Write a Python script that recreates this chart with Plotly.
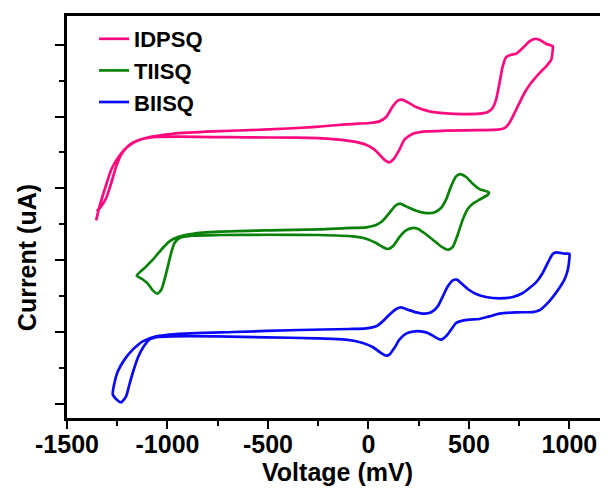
import plotly.graph_objects as go

# IDPSQ (pink) voltage (mV) and current (arb. units)
idpsq_v = [-1355, -1338, -1313, -1280, -1247, -1206, -1156, -1090, -973, -774, -526, -277, -111, 5, 55, 88, 121, 146, 167, 196, 237, 303, 386, 469, 552, 594, 618, 635, 652, 668, 685, 710, 735, 768, 801, 826, 851, 884, 917,
           917, 909, 884, 851, 809, 776, 735, 701, 677, 643, 552, 386, 287, 221, 179, 154, 129, 104, 85, 63, 30, -12, -78, -178, -360, -609, -774, -940, -1056, -1139, -1189, -1231, -1255, -1280, -1305, -1330, -1352]
idpsq_i = [25.53, 27.48, 29.80, 32.59, 34.21, 35.61, 36.54, 37.14, 37.60, 37.93, 38.16, 38.53, 38.90, 39.09, 39.32, 39.93, 41.41, 42.20, 42.34, 41.97, 41.32, 40.71, 40.44, 40.34, 40.39, 40.62, 41.18, 42.34, 44.66, 46.98, 48.28, 48.61, 48.75, 49.54, 50.46, 50.79, 50.70, 50.14, 49.77,
           49.30, 47.91, 46.98, 46.05, 44.66, 43.27, 40.95, 39.09, 38.39, 38.16, 38.11, 38.02, 37.93, 37.60, 36.77, 35.38, 34.21, 33.61, 33.84, 34.45, 35.38, 36.07, 36.54, 36.86, 37.05, 37.09, 37.14, 37.19, 37.14, 36.77, 36.07, 34.68, 33.05, 30.73, 28.64, 27.48, 26.79]

# TIISQ (green)
tiisq_v = [-1153, -1114, -1073, -1031, -990, -949, -874, -741, -493, -244, -111, -12, 38, 71, 104, 134, 157, 187, 237, 287, 328, 361, 386, 411, 436, 456, 486, 519, 552, 599,
           594, 552, 519, 494, 469, 444, 419, 395, 361, 320, 278, 245, 217, 187, 154, 124, 96, 71, 38, -12, -78, -244, -493, -741, -874, -940, -965, -982, -998, -1015, -1031, -1051, -1073, -1098, -1126, -1153]
tiisq_i = [17.82, 18.89, 20.05, 21.44, 22.60, 23.21, 23.67, 23.95, 24.14, 24.28, 24.46, 24.56, 24.88, 25.48, 26.55, 27.57, 27.85, 27.48, 26.88, 26.55, 26.64, 27.25, 28.41, 30.27, 31.66, 31.98, 31.57, 30.64, 29.89, 29.43,
           29.10, 28.41, 27.85, 27.11, 25.62, 23.53, 21.82, 21.44, 21.91, 22.84, 23.77, 24.37, 24.46, 24.14, 23.21, 22.00, 21.54, 21.82, 22.37, 22.98, 23.30, 23.49, 23.53, 23.49, 23.39, 23.07, 22.37, 20.98, 19.12, 17.27, 15.87, 15.32, 15.78, 16.71, 17.36, 17.82]

# BIISQ (blue)
biisq_v = [-1272, -1264, -1247, -1214, -1173, -1123, -1056, -957, -675, -343, -95, -12, 38, 71, 104, 138, 162, 196, 237, 279, 312, 345, 370, 395, 420, 440, 461, 494, 536, 585, 652, 718, 768, 801, 834, 867, 892, 917, 934, 958, 975, 1000,
           1000, 992, 975, 950, 917, 884, 851, 818, 735, 652, 602, 552, 503, 469, 436, 411, 386, 361, 333, 303, 270, 229, 187, 154, 129, 104, 88, 63, 21, -28, -111, -260, -509, -758, -973, -1048, -1090, -1123, -1148, -1173, -1192, -1206, -1231, -1252, -1272]
biisq_i = [1.25, 2.88, 4.50, 6.13, 7.52, 8.68, 9.38, 9.70, 9.98, 10.26, 10.40, 10.49, 10.77, 11.46, 12.39, 13.18, 13.41, 13.09, 12.72, 12.53, 12.72, 13.55, 14.95, 16.34, 17.18, 17.27, 16.80, 15.97, 15.27, 14.85, 14.67, 14.85, 15.41, 16.11, 16.90, 18.20, 19.59, 20.84, 21.08, 20.98, 20.89, 20.89,
           20.29, 18.66, 17.27, 16.11, 14.85, 13.79, 13.00, 12.76, 12.72, 12.53, 12.16, 11.79, 11.70, 11.56, 11.23, 10.30, 9.38, 8.91, 9.24, 9.75, 10.03, 10.07, 9.75, 8.91, 7.75, 6.82, 6.68, 7.05, 7.89, 8.45, 8.91, 9.10, 9.24, 9.38, 9.38, 9.28, 8.91, 7.75, 6.36, 4.27, 2.41, 1.02, 0.18, 0.55, 1.25]

names = ["IDPSQ", "TIISQ", "BIISQ"]
colors = ["#FF0A7E", "#0A820A", "#0A0AF5"]
x_tickvals = [-1500, -1000, -500, 0, 500, 1000]

FONT = "Liberation Sans, Arial, sans-serif"

fig = go.Figure()
for name, xs, ys, c in zip(names, [idpsq_v, tiisq_v, biisq_v], [idpsq_i, tiisq_i, biisq_i], colors):
    fig.add_trace(go.Scatter(x=xs, y=ys, mode="lines", name=name,
                             line=dict(color=c, width=2.7, shape="spline", smoothing=0.6)))

# page body has an 8px default margin, so the figure is sized 8px smaller
fig.update_layout(
    width=600, height=481,
    margin=dict(l=59, r=0, t=8, b=71, autoexpand=False),
    paper_bgcolor="white", plot_bgcolor="white",
    font=dict(family=FONT, color="black"),
    showlegend=True,
    legend=dict(x=0.050, y=0.995, xanchor="left", yanchor="top",
                bgcolor="rgba(0,0,0,0)", tracegroupgap=0,
                font=dict(size=22, family=FONT, color="black", weight="bold"),
                itemwidth=30),
    xaxis=dict(
        range=[-1500, 1192], tickvals=x_tickvals,
        ticktext=[str(v) for v in x_tickvals],
        showline=True, linecolor="black", linewidth=2.5, mirror=True,
        ticks="outside", ticklen=8, tickwidth=2, tickcolor="black",
        minor=dict(dtick=250, tick0=0, ticks="outside", ticklen=5, tickwidth=2, tickcolor="black"),
        showgrid=False, zeroline=False,
        ticklabelstandoff=-6,
        tickfont=dict(size=25, family=FONT, color="black", weight="bold"),
        title=dict(text="Voltage (mV)", standoff=0,
                   font=dict(size=25, family=FONT, color="black", weight="bold")),
    ),
    yaxis=dict(
        range=[-2.0, 54.0], tick0=0, dtick=10,
        showline=True, linecolor="black", linewidth=2.5, mirror=False,
        ticks="outside", ticklen=9, tickwidth=2, tickcolor="black",
        minor=dict(dtick=5, tick0=0, ticks="outside", ticklen=5, tickwidth=2, tickcolor="black"),
        showticklabels=False, showgrid=False, zeroline=False,
    ),
    annotations=[dict(text="Current (uA)", xref="paper", yref="paper",
                      x=-0.074, y=0.40, textangle=-90, showarrow=False,
                      xanchor="center", yanchor="middle",
                      font=dict(size=25, family=FONT, color="black", weight="bold"))],
)

fig.write_html("out.html")
